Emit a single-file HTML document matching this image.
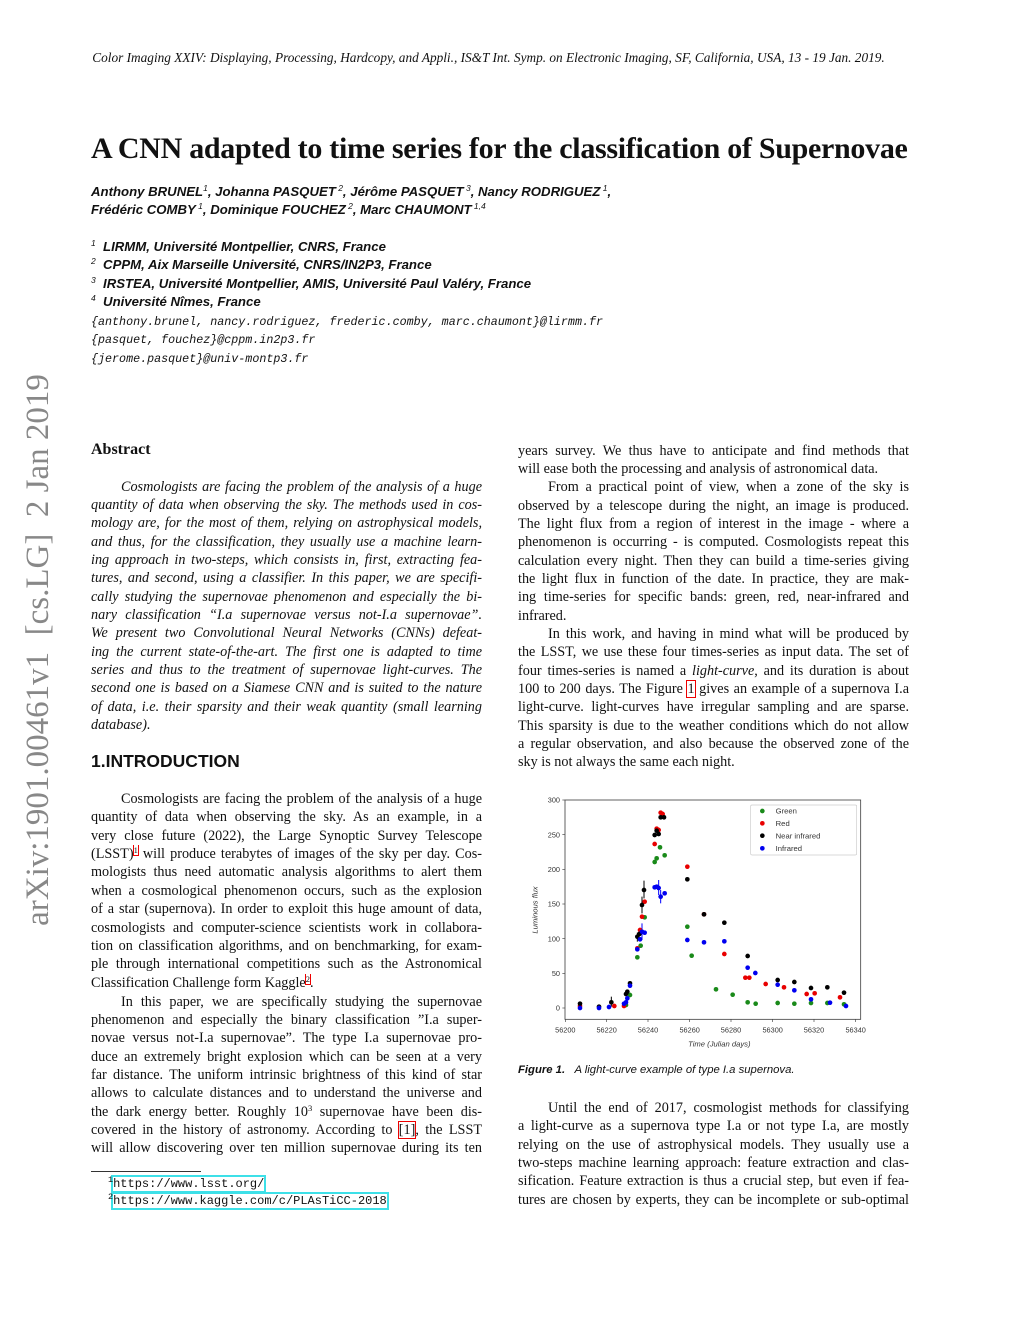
<!DOCTYPE html>
<html><head><meta charset="utf-8"><style>
body{margin:0;background:#fff;}
#p{position:relative;width:1024px;height:1325px;overflow:hidden;background:#fff;color:#111;font-family:"Liberation Serif",serif;}
.a{position:absolute;white-space:nowrap;}
.l{position:absolute;width:391px;font-size:14.2px;line-height:18px;text-align:justify;text-align-last:justify;overflow:hidden;height:18px;}
.L{left:91px}.R{left:518px}
.e{text-align-last:left}
.in{text-indent:30px}
.i{font-style:italic}
.sans{font-family:"Liberation Sans",sans-serif}
.mono{font-family:"Liberation Mono",monospace}
.rb{outline:1px solid #e00;}
.s{position:relative;top:-5px;font-size:8.5px;font-weight:normal;line-height:0;}
</style></head><body><div id="p">
<div class="a i" style="left:88px;top:50px;width:801px;font-size:13.3px;text-align:center">Color Imaging XXIV: Displaying, Processing, Hardcopy, and Appli., IS&amp;T Int. Symp. on Electronic Imaging, SF, California, USA, 13 - 19 Jan. 2019.</div>
<div class="a" style="left:91px;top:132px;font-size:30px;font-weight:bold;letter-spacing:-0.3px">A CNN adapted to time series for the classification of Supernovae</div>
<div class="a sans i" style="left:91px;top:183px;font-size:13.2px;font-weight:bold;line-height:18px">Anthony BRUNEL<span class="s">1</span>, Johanna PASQUET<span class="s"> 2</span>, Jérôme PASQUET<span class="s"> 3</span>, Nancy RODRIGUEZ<span class="s"> 1</span>,<br>Frédéric COMBY<span class="s"> 1</span>, Dominique FOUCHEZ<span class="s"> 2</span>, Marc CHAUMONT<span class="s"> 1,4</span></div>
<div class="a sans i" style="left:91px;top:238px;font-size:13.2px;font-weight:bold;line-height:18.3px"><span class="s">1</span>&nbsp; LIRMM, Université Montpellier, CNRS, France<br><span class="s">2</span>&nbsp; CPPM, Aix Marseille Université, CNRS/IN2P3, France<br><span class="s">3</span>&nbsp; IRSTEA, Université Montpellier, AMIS, Université Paul Valéry, France<br><span class="s">4</span>&nbsp; Université Nîmes, France</div>
<div class="a mono i" style="left:91px;top:313px;font-size:11.7px;line-height:18.3px">{anthony.brunel, nancy.rodriguez, frederic.comby, marc.chaumont}@lirmm.fr<br>{pasquet, fouchez}@cppm.in2p3.fr<br>{jerome.pasquet}@univ-montp3.fr</div>
<div class="a" style="left:20px;top:930px;transform:rotate(-90deg);transform-origin:0 0;font-size:33px;color:#888;width:560px;text-align:center">arXiv:1901.00461v1&nbsp; [cs.LG]&nbsp; 2 Jan 2019</div>

<div class="a" style="left:91px;top:441px;font-size:16px;font-weight:bold">Abstract</div>
<div class="l L i in" style="top:478px">Cosmologists are facing the problem of the analysis of a huge</div>
<div class="l L i" style="top:496px">quantity of data when observing the sky. The methods used in cos-</div>
<div class="l L i" style="top:514px">mology are, for the most of them, relying on astrophysical models,</div>
<div class="l L i" style="top:533px">and thus, for the classification, they usually use a machine learn-</div>
<div class="l L i" style="top:551px">ing approach in two-steps, which consists in, first, extracting fea-</div>
<div class="l L i" style="top:569px">tures, and second, using a classifier. In this paper, we are specifi-</div>
<div class="l L i" style="top:588px">cally studying the supernovae phenomenon and especially the bi-</div>
<div class="l L i" style="top:606px">nary classification “I.a supernovae versus not-I.a supernovae”.</div>
<div class="l L i" style="top:624px">We present two Convolutional Neural Networks (CNNs) defeat-</div>
<div class="l L i" style="top:643px">ing the current state-of-the-art. The first one is adapted to time</div>
<div class="l L i" style="top:661px">series and thus to the treatment of supernovae light-curves. The</div>
<div class="l L i" style="top:679px">second one is based on a Siamese CNN and is suited to the nature</div>
<div class="l L i" style="top:698px">of data, i.e. their sparsity and their weak quantity (small learning</div>
<div class="l L i e" style="top:716px">database).</div>
<div class="a sans" style="left:91px;top:751px;font-size:17.5px;font-weight:bold">1.INTRODUCTION</div>
<div class="l L in" style="top:790px">Cosmologists are facing the problem of the analysis of a huge</div>
<div class="l L" style="top:808px">quantity of data when observing the sky. As an example, in a</div>
<div class="l L" style="top:827px">very close future (2022), the Large Synoptic Survey Telescope</div>
<div class="l L" style="top:845px">(LSST)<span class="s rb">1</span> will produce terabytes of images of the sky per day. Cos-</div>
<div class="l L" style="top:863px">mologists thus need automatic analysis algorithms to alert them</div>
<div class="l L" style="top:882px">when a cosmological phenomenon occurs, such as the explosion</div>
<div class="l L" style="top:900px">of a star (supernova). In order to exploit this huge amount of data,</div>
<div class="l L" style="top:919px">cosmologists and computer-science scientists work in collabora-</div>
<div class="l L" style="top:937px">tion on classification algorithms, and on benchmarking, for exam-</div>
<div class="l L" style="top:955px">ple through international competitions such as the Astronomical</div>
<div class="l L e" style="top:974px">Classification Challenge form Kaggle<span class="s rb">2</span>.</div>
<div class="l L in" style="top:993px">In this paper, we are specifically studying the supernovae</div>
<div class="l L" style="top:1011px">phenomenon and especially the binary classification ”I.a super-</div>
<div class="l L" style="top:1029px">novae versus not-I.a supernovae”. The type I.a supernovae pro-</div>
<div class="l L" style="top:1048px">duce an extremely bright explosion which can be seen at a very</div>
<div class="l L" style="top:1066px">far distance. The uniform intrinsic brightness of this kind of star</div>
<div class="l L" style="top:1084px">allows to calculate distances and to understand the universe and</div>
<div class="l L" style="top:1103px">the dark energy better. Roughly 10<span class="s">3</span> supernovae have been dis-</div>
<div class="l L" style="top:1121px">covered in the history of astronomy. According to <span class="rb">[1]</span>, the LSST</div>
<div class="l L" style="top:1139px">will allow discovering over ten million supernovae during its ten</div>
<div class="a" style="left:91px;top:1171px;width:110px;border-top:1px solid #333"></div>
<div class="a mono" style="left:108px;top:1176px;font-size:12px;line-height:16.5px"><span class="s">1</span><span style="outline:2px solid #3de0e8">https://www.lsst.org/</span><br><span class="s">2</span><span style="outline:2px solid #3de0e8">https://www.kaggle.com/c/PLAsTiCC-2018</span></div>

<div class="l R" style="top:442px">years survey. We thus have to anticipate and find methods that</div>
<div class="l R e" style="top:460px">will ease both the processing and analysis of astronomical data.</div>
<div class="l R in" style="top:478px">From a practical point of view, when a zone of the sky is</div>
<div class="l R" style="top:497px">observed by a telescope during the night, an image is produced.</div>
<div class="l R" style="top:515px">The light flux from a region of interest in the image - where a</div>
<div class="l R" style="top:533px">phenomenon is occurring - is computed. Cosmologists repeat this</div>
<div class="l R" style="top:552px">calculation every night. Then they can build a time-series giving</div>
<div class="l R" style="top:570px">the light flux in function of the date. In practice, they are mak-</div>
<div class="l R" style="top:588px">ing time-series for specific bands: green, red, near-infrared and</div>
<div class="l R e" style="top:607px">infrared.</div>
<div class="l R in" style="top:625px">In this work, and having in mind what will be produced by</div>
<div class="l R" style="top:643px">the LSST, we use these four times-series as input data. The set of</div>
<div class="l R" style="top:662px">four times-series is named a <i>light-curve</i>, and its duration is about</div>
<div class="l R" style="top:680px">100 to 200 days. The Figure <span class="rb">1</span> gives an example of a supernova I.a</div>
<div class="l R" style="top:698px">light-curve. light-curves have irregular sampling and are sparse.</div>
<div class="l R" style="top:717px">This sparsity is due to the weather conditions which do not allow</div>
<div class="l R" style="top:735px">a regular observation, and also because the observed zone of the</div>
<div class="l R e" style="top:753px">sky is not always the same each night.</div>

<svg class="a" style="left:520px;top:790px" width="350" height="260" viewBox="0 0 1050 780">
<g font-family="Liberation Sans, sans-serif" font-size="22" fill="#333">
<rect x="135" y="30" width="887" height="658" fill="none" stroke="#444" stroke-width="2.5"/>
<g stroke="#444" stroke-width="2">
<line x1="127" y1="30" x2="135" y2="30"/><line x1="127" y1="134" x2="135" y2="134"/><line x1="127" y1="238" x2="135" y2="238"/><line x1="127" y1="342" x2="135" y2="342"/><line x1="127" y1="446" x2="135" y2="446"/><line x1="127" y1="550" x2="135" y2="550"/><line x1="127" y1="654" x2="135" y2="654"/>
<line x1="136" y1="688" x2="136" y2="696"/><line x1="260" y1="688" x2="260" y2="696"/><line x1="384" y1="688" x2="384" y2="696"/><line x1="509" y1="688" x2="509" y2="696"/><line x1="633" y1="688" x2="633" y2="696"/><line x1="758" y1="688" x2="758" y2="696"/><line x1="882" y1="688" x2="882" y2="696"/><line x1="1007" y1="688" x2="1007" y2="696"/>
</g>
<g text-anchor="end"><text x="120" y="38">300</text><text x="120" y="142">250</text><text x="120" y="246">200</text><text x="120" y="350">150</text><text x="120" y="454">100</text><text x="120" y="558">50</text><text x="120" y="662">0</text></g>
<g text-anchor="middle"><text x="136" y="728">56200</text><text x="260" y="728">56220</text><text x="384" y="728">56240</text><text x="509" y="728">56260</text><text x="633" y="728">56280</text><text x="758" y="728">56300</text><text x="882" y="728">56320</text><text x="1007" y="728">56340</text></g>
<text x="598" y="770" text-anchor="middle" font-style="italic" font-size="23">Time (Julian days)</text>
<text transform="translate(52,360) rotate(-90)" text-anchor="middle" font-style="italic" font-size="23">Luminous flux</text>
<g stroke="#000" stroke-width="3"><line x1="274" y1="620" x2="274" y2="650"/><line x1="366" y1="320" x2="366" y2="370"/><line x1="372" y1="272" x2="372" y2="325"/><line x1="352" y1="428" x2="352" y2="455"/></g>
<g stroke="#00f" stroke-width="3"><line x1="366" y1="400" x2="366" y2="450"/><line x1="416" y1="270" x2="416" y2="315"/><line x1="422" y1="300" x2="422" y2="340"/></g>
<g fill="#1a8a1a">
<circle cx="318" cy="645" r="7"/><circle cx="330" cy="615" r="7"/><circle cx="352" cy="502" r="7"/><circle cx="362" cy="467" r="7"/><circle cx="374" cy="382" r="7"/><circle cx="404" cy="216" r="7"/><circle cx="410" cy="205" r="7"/><circle cx="420" cy="172" r="7"/><circle cx="434" cy="196" r="7"/><circle cx="502" cy="410" r="7"/><circle cx="515" cy="497" r="7"/><circle cx="588" cy="598" r="7"/><circle cx="638" cy="614" r="7"/><circle cx="683" cy="637" r="7"/><circle cx="707" cy="641" r="7"/><circle cx="773" cy="639" r="7"/><circle cx="823" cy="641" r="7"/><circle cx="873" cy="639" r="7"/><circle cx="922" cy="639" r="7"/><circle cx="972" cy="643" r="7"/></g>
<g fill="#e80000">
<circle cx="180" cy="648" r="7"/><circle cx="283" cy="648" r="7"/><circle cx="312" cy="648" r="7"/><circle cx="352" cy="475" r="7"/><circle cx="360" cy="420" r="7"/><circle cx="366" cy="380" r="7"/><circle cx="374" cy="335" r="7"/><circle cx="404" cy="162" r="7"/><circle cx="410" cy="116" r="7"/><circle cx="416" cy="120" r="7"/><circle cx="422" cy="68" r="7"/><circle cx="428" cy="72" r="7"/><circle cx="502" cy="230" r="7"/><circle cx="552" cy="373" r="7"/><circle cx="613" cy="492" r="7"/><circle cx="676" cy="563" r="7"/><circle cx="688" cy="563" r="7"/><circle cx="737" cy="582" r="7"/><circle cx="792" cy="592" r="7"/><circle cx="860" cy="612" r="7"/><circle cx="884" cy="610" r="7"/><circle cx="960" cy="622" r="7"/></g>
<g fill="#000">
<circle cx="180" cy="641" r="7"/><circle cx="237" cy="650" r="7"/><circle cx="274" cy="637" r="7"/><circle cx="318" cy="612" r="7"/><circle cx="322" cy="605" r="7"/><circle cx="330" cy="580" r="7"/><circle cx="352" cy="440" r="7"/><circle cx="358" cy="432" r="7"/><circle cx="366" cy="345" r="7"/><circle cx="372" cy="300" r="7"/><circle cx="404" cy="135" r="7"/><circle cx="410" cy="122" r="7"/><circle cx="416" cy="132" r="7"/><circle cx="422" cy="82" r="7"/><circle cx="432" cy="82" r="7"/><circle cx="502" cy="268" r="7"/><circle cx="552" cy="373" r="7"/><circle cx="613" cy="398" r="7"/><circle cx="683" cy="498" r="7"/><circle cx="773" cy="570" r="7"/><circle cx="823" cy="576" r="7"/><circle cx="873" cy="594" r="7"/><circle cx="922" cy="592" r="7"/><circle cx="972" cy="608" r="7"/></g>
<g fill="#0000f0">
<circle cx="180" cy="654" r="7"/><circle cx="237" cy="654" r="7"/><circle cx="267" cy="651" r="7"/><circle cx="312" cy="641" r="7"/><circle cx="318" cy="637" r="7"/><circle cx="322" cy="625" r="7"/><circle cx="330" cy="587" r="7"/><circle cx="352" cy="478" r="7"/><circle cx="360" cy="448" r="7"/><circle cx="366" cy="425" r="7"/><circle cx="374" cy="428" r="7"/><circle cx="404" cy="292" r="7"/><circle cx="410" cy="290" r="7"/><circle cx="416" cy="294" r="7"/><circle cx="422" cy="320" r="7"/><circle cx="434" cy="310" r="7"/><circle cx="502" cy="450" r="7"/><circle cx="552" cy="457" r="7"/><circle cx="613" cy="454" r="7"/><circle cx="683" cy="533" r="7"/><circle cx="706" cy="549" r="7"/><circle cx="773" cy="584" r="7"/><circle cx="823" cy="601" r="7"/><circle cx="873" cy="628" r="7"/><circle cx="930" cy="638" r="7"/><circle cx="978" cy="648" r="7"/></g>
<rect x="692" y="45" width="318" height="150" fill="#fff" stroke="#ccc" stroke-width="2" rx="4"/>
<circle cx="727" cy="63" r="7" fill="#1a8a1a"/><circle cx="727" cy="100" r="7" fill="#e80000"/><circle cx="727" cy="137" r="7" fill="#000"/><circle cx="727" cy="175" r="7" fill="#0000f0"/>
<text x="767" y="71" font-size="23">Green</text><text x="767" y="108" font-size="23">Red</text><text x="767" y="145" font-size="23">Near infrared</text><text x="767" y="183" font-size="23">Infrared</text>
</g></svg>
<div class="a sans i" style="left:518px;top:1064px;font-size:11.3px"><b>Figure 1.</b>&nbsp;&nbsp;&nbsp;A light-curve example of type I.a supernova.</div>

<div class="l R in" style="top:1099px">Until the end of 2017, cosmologist methods for classifying</div>
<div class="l R" style="top:1117px">a light-curve as a supernova type I.a or not type I.a, are mostly</div>
<div class="l R" style="top:1136px">relying on the use of astrophysical models. They usually use a</div>
<div class="l R" style="top:1154px">two-steps machine learning approach: feature extraction and clas-</div>
<div class="l R" style="top:1172px">sification. Feature extraction is thus a crucial step, but even if fea-</div>
<div class="l R" style="top:1191px">tures are chosen by experts, they can be incomplete or sub-optimal</div>
</div></body></html>
